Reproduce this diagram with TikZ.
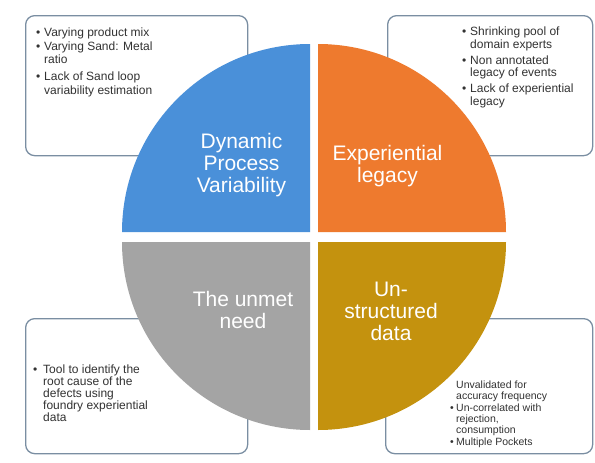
\documentclass[tikz,border=0pt]{standalone}
\usepackage{fontspec}
\setmainfont{Liberation Sans}
\definecolor{qblue}{RGB}{74,144,217}
\definecolor{qorange}{RGB}{238,122,46}
\definecolor{qgray}{RGB}{164,164,164}
\definecolor{qgold}{RGB}{196,146,14}
\definecolor{boxline}{RGB}{122,142,162}
\definecolor{txt}{RGB}{50,50,50}
\newcommand{\bl}{\makebox[8pt][l]{•}}
\newcommand{\ind}{\makebox[8pt][l]{}}
\tikzset{
  infobox/.style={draw=boxline, line width=1.3pt, fill=white, rounded corners=9pt, anchor=north west, inner sep=0pt},
  notes/.style={anchor=north west, inner sep=0pt, align=left, text=txt, font=\fontsize{12}{13.3}\selectfont},
  qlabel/.style={align=center, text=white, inner sep=0pt, font=\fontsize{21}{22}\selectfont}
}
\begin{document}
\begin{tikzpicture}[x=1pt,y=-1pt]
\useasboundingbox (0,0) rectangle (595,463);
\fill[white] (0,0) rectangle (595,463);
% boxes
\node[infobox, minimum width=222pt, minimum height=140pt] (boxTL) at (25,15) {};
\node[infobox, minimum width=205pt, minimum height=140pt] (boxTR) at (387,15) {};
\node[infobox, minimum width=222pt, minimum height=135pt] (boxBL) at (25,318) {};
\node[infobox, minimum width=207pt, minimum height=135pt] (boxBR) at (385,318) {};
% quadrants
\fill[qblue] (310,232) -- (122,232) arc[start angle=180, end angle=90, radius=188pt] -- cycle;
\fill[qorange] (318,232) -- (318,44) arc[start angle=90, end angle=0, radius=188pt] -- cycle;
\fill[qgray] (310,242) -- (310,430) arc[start angle=270, end angle=180, radius=188pt] -- cycle;
\fill[qgold] (318,242) -- (506,242) arc[start angle=0, end angle=-90, radius=188pt] -- cycle;
% labels
\node[qlabel] (lblTL) at (241.5,165) {Dynamic\\Process\\Variability};
\node[qlabel] (lblTR) at (387.5,166) {Experiential\\legacy};
\node[qlabel] (lblBL) at (243,310) {The unmet\\need};
\node[qlabel] (lblBR) at (391,311) {Un-\\structured\\data};
% notes
\node[notes] (txtTL) at (36,28) {\bl Varying product mix\\[0pt]
\bl Varying Sand: Metal\\ \ind ratio\\[4pt]
\bl Lack of Sand loop\\ \ind variability estimation};
\node[notes, font=\fontsize{12}{12.7}\selectfont] (txtTR) at (462,27) {\bl Shrinking pool of\\ \ind domain experts\\[3pt]
\bl Non annotated\\ \ind legacy of events\\[3pt]
\bl Lack of experiential\\ \ind legacy};
\node[notes, font=\fontsize{12}{11.8}\selectfont] (txtBL) at (33,365) {\makebox[10pt][l]{•}Tool to identify the\\ \makebox[10pt][l]{}root cause of the\\ \makebox[10pt][l]{}defects using\\ \makebox[10pt][l]{}foundry experiential\\ \makebox[10pt][l]{}data};
\node[notes, font=\fontsize{10.5}{11}\selectfont] (txtBR) at (450,381) {\makebox[6pt][l]{}Unvalidated for\\ \makebox[6pt][l]{}accuracy frequency\\[1pt]
\makebox[6pt][l]{•}Un-correlated with\\ \makebox[6pt][l]{}rejection,\\ \makebox[6pt][l]{}consumption\\[1pt]
\makebox[6pt][l]{•}Multiple Pockets};
\end{tikzpicture}
\end{document}
